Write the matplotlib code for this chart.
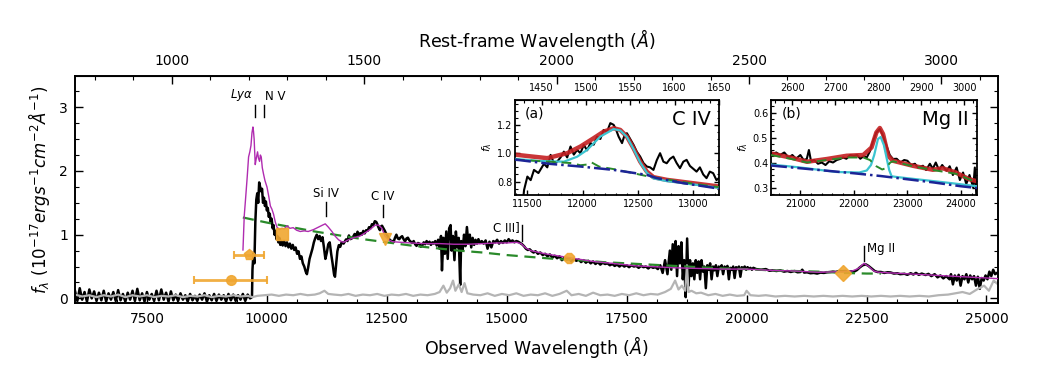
import matplotlib.pyplot as plt
import numpy as np
from matplotlib.ticker import MultipleLocator, AutoMinorLocator

z = 7.02

# observed spectrum (black)
wave = [6000, 6050, 6100, 6150, 6200, 6250, 6300, 6350, 6400, 6450, 6500, 6550, 6600, 6650,
        6700, 6750, 6800, 6850, 6900, 6950, 7000, 7050, 7100, 7150, 7200, 7250, 7300, 7350,
        7400, 7450, 7500, 7550, 7600, 7650, 7700, 7750, 7800, 7850, 7900, 7950, 8000, 8050,
        8100, 8150, 8200, 8250, 8300, 8350, 8400, 8450, 8500, 8550, 8600, 8650, 8700, 8750,
        8800, 8850, 8900, 8950, 9000, 9050, 9100, 9150, 9200, 9250, 9300, 9350, 9400, 9450,
        9500, 9550, 9600, 9650, 9690, 9700, 9720, 9740, 9760, 9780, 9800, 9820, 9840, 9860,
        9880, 9900, 9920, 9940, 9960, 9980, 10000, 10020, 10040, 10060, 10080, 10100, 10120,
        10140, 10160, 10180, 10200, 10220, 10240, 10260, 10280, 10300, 10330, 10360, 10390,
        10420, 10450, 10480, 10510, 10540, 10570, 10600, 10630, 10660, 10690, 10720, 10750,
        10780, 10810, 10835, 10860, 10890, 10920, 10950, 10980, 11010, 11040, 11070, 11100,
        11130, 11160, 11190, 11220, 11250, 11280, 11310, 11340, 11370, 11400, 11420, 11440,
        11470, 11500, 11530, 11560, 11600, 11650, 11680, 11710, 11740, 11770, 11800, 11830,
        11860, 11890, 11920, 11950, 11980, 12010, 12040, 12070, 12100, 12130, 12160, 12190,
        12220, 12250, 12280, 12300, 12325, 12356, 12380, 12400, 12430, 12460, 12490, 12520,
        12550, 12580, 12610, 12640, 12670, 12700, 12730, 12760, 12790, 12820, 12850, 12880,
        12910, 12940, 12970, 13000, 13030, 13060, 13090, 13120, 13150, 13180, 13210, 13240,
        13270, 13300, 13330, 13360, 13390, 13420, 13450, 13480, 13510, 13540, 13570, 13600,
        13630, 13650, 13680, 13710, 13740, 13770, 13800, 13830, 13850, 13880, 13910, 13940,
        13970, 14000, 14030, 14050, 14080, 14110, 14140, 14170, 14200, 14230, 14260, 14290,
        14320, 14350, 14380, 14410, 14440, 14480, 14520, 14560, 14600, 14640, 14680, 14720,
        14760, 14800, 14840, 14880, 14920, 14960, 15000, 15040, 15080, 15120, 15160, 15200,
        15240, 15280, 15320, 15360, 15400, 15440, 15480, 15520, 15560, 15600, 15650, 15700,
        15750, 15800, 15850, 15900, 15950, 16000, 16050, 16100, 16150, 16200, 16250, 16300,
        16350, 16400, 16450, 16500, 16550, 16600, 16650, 16700, 16750, 16800, 16850, 16900,
        16950, 17000, 17050, 17100, 17150, 17200, 17250, 17300, 17350, 17400, 17450, 17500,
        17550, 17600, 17650, 17700, 17750, 17800, 17850, 17900, 17950, 18000, 18050, 18100,
        18150, 18200, 18250, 18300, 18350, 18400, 18430, 18460, 18490, 18520, 18550, 18580,
        18610, 18640, 18670, 18700, 18730, 18760, 18790, 18820, 18850, 18880, 18910, 18940,
        18970, 19000, 19030, 19060, 19090, 19120, 19150, 19180, 19210, 19240, 19270, 19300,
        19330, 19360, 19390, 19420, 19450, 19480, 19510, 19540, 19570, 19600, 19630, 19660,
        19690, 19720, 19750, 19780, 19810, 19840, 19870, 19900, 19930, 19960, 19990, 20020,
        20050, 20080, 20110, 20140, 20200, 20300, 20400, 20475, 20550, 20620, 20700, 20780,
        20850, 20920, 21000, 21060, 21120, 21160, 21200, 21260, 21330, 21400, 21470, 21540,
        21610, 21680, 21740, 21800, 21860, 21930, 22000, 22060, 22120, 22180, 22240, 22300,
        22360, 22420, 22485, 22540, 22610, 22670, 22730, 22800, 22870, 22940, 23000, 23070,
        23140, 23200, 23290, 23350, 23420, 23475, 23530, 23590, 23650, 23730, 23790, 23850,
        23920, 23980, 24040, 24100, 24160, 24230, 24260, 24300, 24340, 24380, 24420, 24460,
        24500, 24540, 24580, 24620, 24660, 24700, 24740, 24780, 24820, 24860, 24900, 24940,
        24980, 25020, 25060, 25100, 25140, 25180, 25220]
flux = [0.12, -0.04, 0.16, -0.02, 0.10, -0.05, 0.14, 0.0, 0.11, -0.04, 0.09, -0.03, 0.12, -0.05,
        0.08, -0.02, 0.10, -0.04, 0.13, -0.03, 0.07, -0.05, 0.09, -0.02, 0.12, -0.04, 0.15, -0.03,
        0.08, -0.05, 0.10, -0.02, 0.07, -0.04, 0.12, -0.03, 0.14, -0.02, 0.09, -0.05, 0.11, -0.03,
        0.06, -0.04, 0.08, -0.02, 0.05, -0.05, 0.07, -0.03, 0.04, -0.04, 0.06, -0.02, 0.08, -0.05,
        0.05, -0.03, 0.07, -0.04, 0.06, -0.02, 0.05, -0.05, 0.07, -0.03, 0.06, -0.04, 0.05, -0.02,
        0.07, -0.04, 0.06, 0.0, 0.02, 0.45, 0.70, 0.55, 1.20, 1.55, 1.65, 1.50, 1.82, 1.75,
        1.68, 1.72, 1.50, 1.58, 1.45, 1.52, 1.38, 1.42, 1.28, 1.33, 1.20, 1.25, 1.10,
        1.15, 1.00, 1.06, 0.93, 0.98, 0.88, 0.95, 0.84, 0.90, 0.83, 0.90, 0.82,
        0.88, 0.80, 0.86, 0.78, 0.84, 0.76, 0.80, 0.70, 0.74, 0.62, 0.66, 0.55,
        0.50, 0.42, 0.38, 0.48, 0.62, 0.70, 0.78, 0.88, 0.95, 1.00, 0.93, 0.98,
        0.90, 0.96, 0.80, 0.62, 0.72, 0.85, 0.88, 0.70, 0.55, 0.38, 0.34, 0.50,
        0.74, 0.835, 0.81, 0.882, 0.86, 0.925, 0.90, 0.988, 0.93, 0.941, 0.97, 1.011,
        0.97, 1.047, 0.99, 1.023, 1.00, 1.059, 1.02, 1.071, 1.06, 1.117, 1.10, 1.164,
        1.15, 1.212, 1.20, 1.17, 1.117, 1.071, 1.13, 1.141, 1.10, 1.059, 1.01, 0.976,
        0.93, 0.906, 0.90, 0.882, 0.95, 1.00, 0.94, 0.929, 0.96, 0.976, 0.93, 0.894,
        0.94, 0.953, 0.91, 0.89, 0.87, 0.90, 0.85, 0.824, 0.87, 0.859, 0.81, 0.83,
        0.88, 0.85, 0.90, 0.86, 0.89, 0.84, 0.88, 0.86, 0.90, 0.83, 0.92, 0.78,
        0.98, 0.44, 0.95, 0.70, 1.05, 0.62, 1.10, 1.15, 0.75, 0.98, 0.60, 1.05,
        0.80, 0.95, 0.21, 0.90, 0.75, 1.00, 0.82, 1.12, 0.86, 1.00, 0.80, 0.95,
        0.84, 0.92, 0.86, 0.93, 0.87, 0.90, 0.86, 0.91, 0.78, 0.89, 0.80, 0.90,
        0.88, 0.92, 0.86, 0.90, 0.87, 0.91, 0.88, 0.93, 0.89, 0.91, 0.88, 0.90,
        0.89, 0.87, 0.85, 0.82, 0.78, 0.76, 0.77, 0.74, 0.72, 0.74, 0.70, 0.72,
        0.68, 0.70, 0.66, 0.69, 0.64, 0.67, 0.63, 0.66, 0.60, 0.64, 0.61, 0.63,
        0.58, 0.62, 0.59, 0.61, 0.57, 0.60, 0.56, 0.59, 0.55, 0.58, 0.54, 0.57,
        0.53, 0.56, 0.54, 0.55, 0.52, 0.54, 0.51, 0.53, 0.50, 0.53, 0.50, 0.52,
        0.49, 0.52, 0.50, 0.51, 0.48, 0.51, 0.49, 0.50, 0.47, 0.50, 0.48, 0.49,
        0.46, 0.52, 0.40, 0.60, 0.38, 0.75, 0.45, 0.85, 0.50, 0.90, 0.35, 0.82,
        0.55, 0.88, 0.30, 0.60, 0.02, 0.94, 0.20, 0.60, 0.35, 0.55, 0.30, 0.60,
        0.40, 0.58, 0.30, 0.60, 0.42, 0.50, 0.16, 0.52, 0.45, 0.55, 0.30, 0.50,
        0.44, 0.52, 0.35, 0.50, 0.46, 0.52, 0.38, 0.50, 0.47, 0.51, 0.30, 0.48,
        0.45, 0.50, 0.32, 0.49, 0.46, 0.50, 0.34, 0.49, 0.47, 0.50, 0.45, 0.49,
        0.46, 0.48, 0.45, 0.48, 0.46, 0.45, 0.46, 0.434, 0.44, 0.43, 0.44, 0.42,
        0.43, 0.415, 0.43, 0.41, 0.414, 0.45, 0.405, 0.41, 0.395, 0.40, 0.39, 0.405,
        0.40, 0.41, 0.414, 0.42, 0.415, 0.43, 0.427, 0.43, 0.415, 0.425, 0.42, 0.445,
        0.487, 0.52, 0.534, 0.51, 0.467, 0.43, 0.414, 0.415, 0.40, 0.41, 0.407, 0.39,
        0.395, 0.38, 0.387, 0.37, 0.395, 0.375, 0.40, 0.37, 0.39, 0.367, 0.385, 0.35,
        0.38, 0.33, 0.36, 0.314, 0.35, 0.30, 0.38, 0.22, 0.36, 0.28, 0.37, 0.20,
        0.35, 0.30, 0.38, 0.25, 0.36, 0.30, 0.35, 0.20, 0.34, 0.15, 0.32, 0.28,
        0.36, 0.30, 0.42, 0.35, 0.45, 0.38, 0.40]

# error spectrum (grey)
err_wave = [6000, 6150, 6300, 6450, 6600, 6750, 6900, 7050, 7200, 7350, 7500, 7650, 7800, 7950,
            8100, 8250, 8400, 8550, 8700, 8850, 9000, 9150, 9300, 9450, 9600, 9700, 9800, 9950,
            10100, 10250, 10400, 10550, 10700, 10850, 11000, 11100, 11200, 11280, 11400, 11550,
            11700, 11850, 12000, 12150, 12300, 12450, 12600, 12750, 12900, 13050, 13200, 13350,
            13500, 13600, 13680, 13750, 13820, 13880, 13930, 14000, 14060, 14120, 14180, 14300,
            14450, 14600, 14750, 14900, 15050, 15200, 15350, 15500, 15650, 15800, 15950, 16100,
            16250, 16350, 16500, 16650, 16800, 16950, 17100, 17250, 17400, 17550, 17700, 17850,
            18000, 18150, 18300, 18420, 18510, 18580, 18650, 18720, 18757, 18790, 18850, 18950,
            19050, 19200, 19350, 19500, 19650, 19800, 19950, 20000, 20080, 20250, 20400, 20600,
            20800, 21000, 21200, 21400, 21600, 21800, 22000, 22200, 22400, 22600, 22800, 23000,
            23200, 23400, 23600, 23800, 24000, 24200, 24350, 24500, 24650, 24800, 24950, 25050,
            25150, 25240]
err_flux = [0.06, 0.03, 0.05, 0.02, 0.05, 0.03, 0.06, 0.02, 0.05, 0.03, 0.05, 0.02, 0.04, 0.03,
            0.05, 0.02, 0.04, 0.03, 0.05, 0.02, 0.04, 0.03, 0.05, 0.03, 0.04, 0.02, 0.04, 0.05,
            0.06, 0.04, 0.06, 0.05, 0.07, 0.05, 0.06, 0.08, 0.12, 0.07, 0.06, 0.05,
            0.07, 0.04, 0.06, 0.05, 0.07, 0.04, 0.06, 0.05, 0.07, 0.04, 0.06, 0.05,
            0.07, 0.10, 0.20, 0.09, 0.16, 0.28, 0.12, 0.22, 0.10, 0.24, 0.08, 0.06,
            0.05, 0.08, 0.04, 0.07, 0.05, 0.08, 0.04, 0.06, 0.05, 0.08, 0.04, 0.07,
            0.12, 0.05, 0.07, 0.04, 0.09, 0.05, 0.06, 0.04, 0.07, 0.05, 0.08, 0.05,
            0.07, 0.06, 0.10, 0.15, 0.28, 0.14, 0.20, 0.12, 0.52, 0.10, 0.12, 0.08,
            0.09, 0.05, 0.07, 0.04, 0.06, 0.04, 0.05, 0.12, 0.05, 0.04, 0.05, 0.03,
            0.04, 0.03, 0.04, 0.03, 0.04, 0.03, 0.04, 0.03, 0.04, 0.03, 0.04, 0.03,
            0.04, 0.03, 0.04, 0.03, 0.05, 0.06, 0.08, 0.10, 0.07, 0.14, 0.20, 0.12,
            0.28, 0.22]

# composite model (magenta)
model_wave = [9502, 9529, 9550, 9565, 9590, 9619, 9645, 9669, 9690, 9710, 9722, 9735, 9758, 9780,
              9806, 9825, 9848, 9865, 9883, 9905, 9931, 9960, 10002, 10040, 10073, 10105, 10140,
              10175, 10210, 10260, 10315, 10360, 10419, 10480, 10550, 10620, 10696, 10780, 10860,
              10973, 11080, 11160, 11217, 11280, 11356, 11420, 11494, 11560, 11600, 11700, 11800,
              11946, 12050, 12150, 12258, 12330, 12398, 12460, 12535, 12620, 12800, 13000, 13300,
              13600, 13900, 14200, 14500, 14800, 15000, 15200, 15300, 15400, 15500, 15800, 16300,
              16800, 17200, 17700, 18000, 18500, 19000, 19500, 20000, 20500, 21000, 21500, 22000,
              22200, 22330, 22446, 22550, 22650, 22750, 23000, 23500, 24000, 24500, 25000, 25240]
model_flux = [0.76, 1.30, 1.50, 1.65, 1.90, 2.22, 2.30, 2.40, 2.60, 2.69, 2.62, 2.50, 2.10, 2.20,
              2.30, 2.20, 2.15, 2.25, 2.22, 2.05, 1.95, 1.85, 1.75, 1.60, 1.45, 1.40, 1.32,
              1.20, 1.12, 1.08, 1.10, 1.09, 1.14, 1.10, 1.11, 1.07, 1.05, 1.06, 1.05,
              1.08, 1.12, 1.15, 1.17, 1.12, 1.05, 0.98, 0.92, 0.89, 0.88, 0.92, 0.95,
              0.98, 1.03, 1.08, 1.15, 1.15, 1.10, 0.98, 0.92, 0.89, 0.88, 0.87, 0.86,
              0.86, 0.85, 0.85, 0.86, 0.87, 0.87, 0.88, 0.86, 0.79, 0.75, 0.70, 0.64,
              0.58, 0.55, 0.51, 0.50, 0.48, 0.47, 0.46, 0.46, 0.44, 0.43, 0.41, 0.42,
              0.43, 0.47, 0.55, 0.50, 0.43, 0.41, 0.40, 0.38, 0.36, 0.34, 0.32, 0.31]

# continuum (green dashed)
cont_wave = [9500, 10000, 10500, 11000, 11500, 12000, 12500, 13000, 13500, 14000, 14500, 15000,
             15500, 16000, 16500, 17000, 17500, 18000, 18500, 19000, 19500, 20000, 20500, 21000,
             21500, 22000, 22500, 22800]
cont_flux = [1.27, 1.19, 1.12, 1.05, 0.99, 0.93, 0.88, 0.83, 0.79, 0.75, 0.72, 0.68,
             0.65, 0.62, 0.60, 0.57, 0.55, 0.53, 0.51, 0.49, 0.47, 0.46, 0.44, 0.43,
             0.42, 0.40, 0.39, 0.39]

# photometry (orange)
phot_wave = [9250, 9630, 10315, 12467, 16300, 22002]
phot_flux = [0.287, 0.68, 1.01, 0.94, 0.64, 0.40]
phot_xerr = [760, 320, 0, 0, 0, 0]
phot_marker = ['o', 'p', 's', 'v', '8', 'D']

# emission line marks
line_names = [r'$Ly\alpha$', 'N V', 'Si IV', 'C IV', 'C III]', 'Mg II']
line_rest = [1216, 1240, 1400, 1549, 1909, 2798]
line_lo = [2.84, 2.84, 1.29, 1.28, 0.90, 0.58]
line_hi = [3.03, 3.03, 1.52, 1.46, 1.15, 0.82]

# inset (a): C IV fit
civ_wave = [11388, 11500, 11680, 11860, 11980, 12100, 12190, 12280, 12340, 12400, 12460, 12520,
            12580, 12640, 12760, 13000, 13233]
civ_total = [0.99, 0.98, 0.965, 1.0, 1.047, 1.106, 1.152, 1.176, 1.164, 1.117, 1.035, 0.941,
             0.87, 0.831, 0.812, 0.788, 0.765]
civ_line_wave = [11388, 11600, 11830, 11950, 12040, 12160, 12280, 12340, 12400, 12460, 12520, 12580,
                 12640, 12760, 13000, 13233]
civ_line = [0.96, 0.945, 0.94, 0.975, 1.023, 1.117, 1.17, 1.16, 1.115, 1.03, 0.935, 0.862,
            0.822, 0.803, 0.78, 0.755]
civ_fe_wave = [11388, 11700, 11900, 11980, 12040, 12080, 12150, 12300, 12450, 12600, 12800, 13000, 13233]
civ_fe = [0.955, 0.94, 0.93, 0.915, 0.92, 0.935, 0.905, 0.885, 0.86, 0.835, 0.81, 0.785, 0.76]
civ_pl_wave = [11388, 11700, 11980, 12280, 12580, 12670, 12900, 13233]
civ_pl = [0.955, 0.925, 0.906, 0.882, 0.847, 0.824, 0.79, 0.75]

# inset (b): Mg II fit
mg_wave = [20451, 20815, 21125, 21495, 21866, 22175, 22330, 22420, 22485, 22545, 22640, 22730,
           23100, 23475, 23660, 23905, 24155, 24300]
mg_total = [0.436, 0.42, 0.403, 0.414, 0.427, 0.43, 0.46, 0.52, 0.538, 0.514, 0.427, 0.407,
            0.387, 0.371, 0.377, 0.36, 0.333, 0.325]
mg_line_wave = [20451, 21000, 21680, 22100, 22240, 22320, 22380, 22450, 22500, 22560, 22610, 22660,
                22705, 22800, 23300, 23800, 24300]
mg_line = [0.392, 0.38, 0.362, 0.36, 0.368, 0.39, 0.43, 0.494, 0.502, 0.47, 0.42, 0.37,
           0.345, 0.342, 0.33, 0.318, 0.305]
mg_fe_wave = [20451, 20815, 21125, 21495, 21866, 22175, 22300, 22420, 22530, 22600, 22680, 22730,
              23100, 23475, 23905, 24300]
mg_fe = [0.43, 0.415, 0.40, 0.41, 0.42, 0.42, 0.41, 0.385, 0.372, 0.378, 0.40, 0.405,
         0.385, 0.37, 0.355, 0.32]
mg_pl_wave = [20451, 21000, 21500, 22000, 22500, 23000, 23500, 24000, 24300]
mg_pl = [0.388, 0.377, 0.367, 0.357, 0.346, 0.333, 0.32, 0.305, 0.298]

orange = '#f0a630'
red = '#c42022'
cyan = '#3cc4d0'
green = '#2a8a2a'
navy = '#1c2496'


def to_rest(w):
    return np.asarray(w) / (1 + z)


def to_obs(w):
    return np.asarray(w) * (1 + z)


def style_ticks(a, size, major, minor, pad):
    a.tick_params(which='both', direction='in', top=False, right=True, labelsize=size, pad=pad)
    a.tick_params(which='major', length=major, width=1.0)
    a.tick_params(which='minor', length=minor, width=0.8)


fig = plt.figure(figsize=(10.41, 3.82), dpi=100)
ax = fig.add_axes([0.072, 0.2055, 0.8867, 0.5955])

ax.plot(wave, flux, color='k', lw=1.8, zorder=2)
ax.plot(err_wave, err_flux, color='#b4b4b4', lw=1.6, zorder=2.5)
ax.plot(cont_wave, cont_flux, color=green, lw=1.6, dashes=(5, 3), zorder=3)
ax.plot(model_wave, model_flux, color='#b02cb0', lw=1.0, zorder=4)
for w, f, e, m in zip(phot_wave, phot_flux, phot_xerr, phot_marker):
    ax.errorbar(w, f, xerr=e if e else None, fmt=m, color=orange, ms=8 if m != 'o' else 7,
                elinewidth=2, capsize=3, capthick=1.5, alpha=0.9, zorder=5)

for name, rest, lo, hi in zip(line_names, line_rest, line_lo, line_hi):
    w = rest * (1 + z)
    ax.plot([w, w], [lo, hi], color='k', lw=1.0, zorder=6)
    if name == r'$Ly\alpha$':
        ax.text(w - 40, hi + 0.03, name, ha='right', va='bottom', fontsize=8.5)
    elif name == 'N V':
        ax.text(w + 20, hi + 0.03, name, ha='left', va='bottom', fontsize=8.5)
    elif name == 'C III]':
        ax.text(w - 30, hi - 0.03, name, ha='right', va='center', fontsize=8.5)
    elif name == 'Mg II':
        ax.text(w + 60, hi - 0.04, name, ha='left', va='center', fontsize=8.5)
    else:
        ax.text(w, hi + 0.03, name, ha='center', va='bottom', fontsize=8.5)

ax.set_xlim(6000, 25240)
ax.set_ylim(-0.08, 3.49)
ax.xaxis.set_major_locator(MultipleLocator(2500))
ax.xaxis.set_minor_locator(AutoMinorLocator(4))
ax.yaxis.set_major_locator(MultipleLocator(1))
ax.yaxis.set_minor_locator(AutoMinorLocator(4))
style_ticks(ax, 10, 6, 3, 6)
ax.tick_params(axis='y', pad=5)
for s in ax.spines.values():
    s.set_linewidth(1.4)
ax.set_xlabel(r'Observed Wavelength ($\AA$)', fontsize=12.5, labelpad=6)
ax.set_ylabel(r'$f_\lambda\ (10^{-17} ergs^{-1} cm^{-2} \AA^{-1})$', fontsize=12, labelpad=5)

sec = ax.secondary_xaxis('top', functions=(to_rest, to_obs))
sec.xaxis.set_major_locator(MultipleLocator(500))
sec.xaxis.set_minor_locator(MultipleLocator(100))
sec.tick_params(which='both', direction='in', labelsize=10, pad=6)
sec.tick_params(which='major', length=6, width=1.0)
sec.tick_params(which='minor', length=3, width=0.8)
sec.set_xlabel(r'Rest-frame Wavelength ($\AA$)', fontsize=12.5, labelpad=5)


def inset(rect, xlim, ylim, model, xmaj, xmin, ymaj, ymin, tmaj, tmin, tag, title):
    a = fig.add_axes(rect)
    a.plot(wave, flux, color='k', lw=1.5, zorder=1)
    a.plot(model[0], model[1], color=red, lw=3.2, alpha=0.9, zorder=2)
    a.plot(model[2], model[3], color=cyan, lw=1.6, zorder=3)
    a.plot(model[4], model[5], color=green, lw=1.4, dashes=(5, 3), zorder=4)
    a.plot(model[6], model[7], color=navy, lw=1.8, ls='-.', zorder=5)
    a.set_xlim(*xlim)
    a.set_ylim(*ylim)
    a.xaxis.set_major_locator(MultipleLocator(xmaj))
    a.xaxis.set_minor_locator(AutoMinorLocator(xmin))
    a.yaxis.set_major_locator(MultipleLocator(ymaj))
    a.yaxis.set_minor_locator(AutoMinorLocator(ymin))
    style_ticks(a, 7, 3.5, 1.8, 3)
    a.tick_params(axis='y', pad=2)
    for s in a.spines.values():
        s.set_linewidth(1.3)
    a.set_ylabel(r'$f_\lambda$', fontsize=8, labelpad=2)
    t = a.secondary_xaxis('top', functions=(to_rest, to_obs))
    t.xaxis.set_major_locator(MultipleLocator(tmaj))
    t.xaxis.set_minor_locator(MultipleLocator(tmin))
    t.tick_params(which='both', direction='in', labelsize=7, pad=5)
    t.tick_params(which='major', length=3.5, width=1.0)
    t.tick_params(which='minor', length=1.8, width=0.8)
    a.text(0.05, 0.86, tag, transform=a.transAxes, fontsize=10, va='center')
    a.text(0.96, 0.80, title, transform=a.transAxes, fontsize=14, ha='right', va='center')
    return a


inset([0.4947, 0.4895, 0.196, 0.2487], (11388, 13233), (0.705, 1.375),
      (civ_wave, civ_total, civ_line_wave, civ_line, civ_fe_wave, civ_fe, civ_pl_wave, civ_pl),
      500, 5, 0.2, 4, 50, 10, '(a)', 'C IV')
inset([0.7406, 0.4895, 0.1979, 0.2487], (20451, 24300), (0.27, 0.65),
      (mg_wave, mg_total, mg_line_wave, mg_line, mg_fe_wave, mg_fe, mg_pl_wave, mg_pl),
      1000, 5, 0.1, 4, 100, 20, '(b)', 'Mg II')

fig.savefig('out.png', dpi=100)
